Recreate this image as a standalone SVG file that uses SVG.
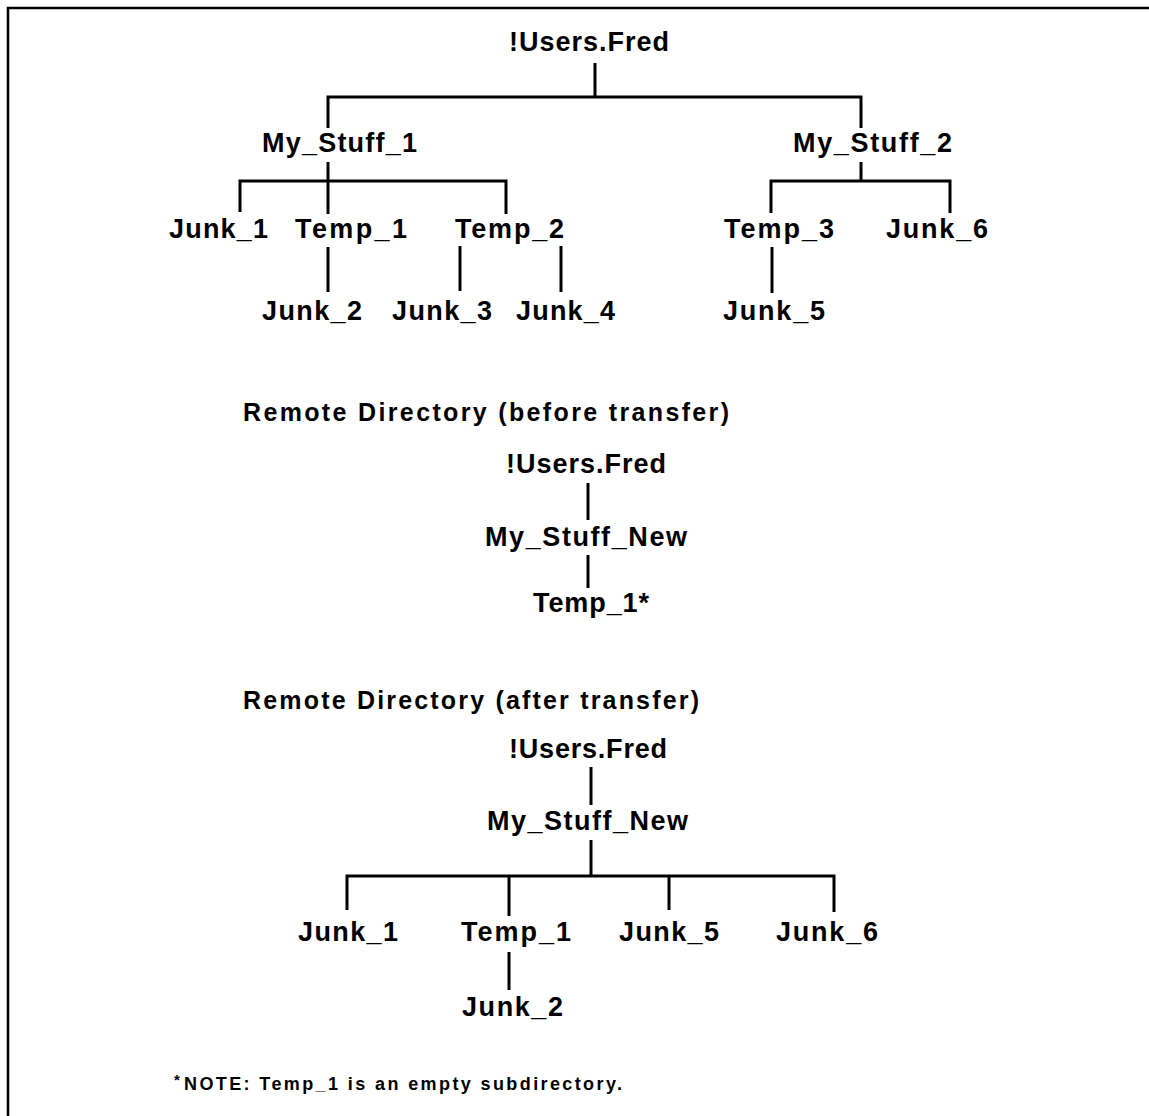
<svg xmlns="http://www.w3.org/2000/svg" width="1149" height="1116" viewBox="0 0 1149 1116">
  <style>
    .n { font-family: "Liberation Sans", Arial, Helvetica, sans-serif; font-weight: bold; font-size: 27px; fill: #000; }
    .h { font-family: "Liberation Sans", Arial, Helvetica, sans-serif; font-weight: bold; font-size: 25px; fill: #000; }
    .f { font-family: "Liberation Sans", Arial, Helvetica, sans-serif; font-weight: bold; font-size: 18px; fill: #000; }
    .fs { font-family: "Liberation Sans", Arial, Helvetica, sans-serif; font-weight: bold; font-size: 15px; fill: #000; }
    .c { stroke: #000; stroke-width: 3; fill: none; stroke-linecap: butt; stroke-linejoin: miter; }
    .frame { stroke: #000; stroke-width: 2.5; fill: none; }
  </style>
  <rect width="1149" height="1116" fill="#fff"/>

  <!-- page frame: top and left rules -->
  <path class="frame" d="M8 1116 V8 H1149"/>

  <!-- tree connectors -->
  <g id="connectors">
    <!-- local tree -->
    <path class="c" d="M595 63 V97"/>
    <path class="c" d="M328 128 V97 H861 V128"/>
    <path class="c" d="M328 162 V214"/>
    <path class="c" d="M240 212 V181 H506 V214"/>
    <path class="c" d="M861 162 V181"/>
    <path class="c" d="M771 213 V181 H950 V213"/>
    <path class="c" d="M328 247 V292"/>
    <path class="c" d="M460 246 V291"/>
    <path class="c" d="M561 246 V292"/>
    <path class="c" d="M772 247 V293"/>
    <!-- remote, before transfer -->
    <path class="c" d="M588 483 V520"/>
    <path class="c" d="M588 555 V588"/>
    <!-- remote, after transfer -->
    <path class="c" d="M591 767 V805"/>
    <path class="c" d="M591 840 V876"/>
    <path class="c" d="M347 910 V876 H834 V912"/>
    <path class="c" d="M509 876 V916"/>
    <path class="c" d="M669 876 V910"/>
    <path class="c" d="M509 952 V990"/>
  </g>

  <!-- local directory tree -->
  <g id="local-root"><text class="n" x="509" y="51" textLength="160" lengthAdjust="spacing">!Users.Fred</text></g>
  <g id="local-my-stuff-1"><text class="n" x="262" y="152" textLength="155" lengthAdjust="spacing">My_Stuff_1</text></g>
  <g id="local-my-stuff-2"><text class="n" x="793" y="152" textLength="159" lengthAdjust="spacing">My_Stuff_2</text></g>
  <g id="local-junk-1"><text class="n" x="169" y="238" textLength="99" lengthAdjust="spacing">Junk_1</text></g>
  <g id="local-temp-1"><text class="n" x="295" y="238" textLength="112" lengthAdjust="spacing">Temp_1</text></g>
  <g id="local-temp-2"><text class="n" x="455" y="238" textLength="109" lengthAdjust="spacing">Temp_2</text></g>
  <g id="local-temp-3"><text class="n" x="724" y="238" textLength="110" lengthAdjust="spacing">Temp_3</text></g>
  <g id="local-junk-6"><text class="n" x="886" y="238" textLength="102" lengthAdjust="spacing">Junk_6</text></g>
  <g id="local-junk-2"><text class="n" x="262" y="320" textLength="100" lengthAdjust="spacing">Junk_2</text></g>
  <g id="local-junk-3"><text class="n" x="392" y="320" textLength="100" lengthAdjust="spacing">Junk_3</text></g>
  <g id="local-junk-4"><text class="n" x="516" y="320" textLength="99" lengthAdjust="spacing">Junk_4</text></g>
  <g id="local-junk-5"><text class="n" x="723" y="320" textLength="102" lengthAdjust="spacing">Junk_5</text></g>

  <!-- remote directory before transfer -->
  <g id="title-before"><text class="h" x="243" y="421" textLength="486" lengthAdjust="spacing">Remote Directory (before transfer)</text></g>
  <g id="before-root"><text class="n" x="506" y="473" textLength="160" lengthAdjust="spacing">!Users.Fred</text></g>
  <g id="before-my-stuff-new"><text class="n" x="485" y="546" textLength="202" lengthAdjust="spacing">My_Stuff_New</text></g>
  <g id="before-temp-1"><text class="n" x="533" y="612" textLength="116" lengthAdjust="spacing">Temp_1*</text></g>

  <!-- remote directory after transfer -->
  <g id="title-after"><text class="h" x="243" y="709" textLength="456" lengthAdjust="spacing">Remote Directory (after transfer)</text></g>
  <g id="after-root"><text class="n" x="509" y="758" textLength="158" lengthAdjust="spacing">!Users.Fred</text></g>
  <g id="after-my-stuff-new"><text class="n" x="487" y="830" textLength="201" lengthAdjust="spacing">My_Stuff_New</text></g>
  <g id="after-junk-1"><text class="n" x="298" y="941" textLength="100" lengthAdjust="spacing">Junk_1</text></g>
  <g id="after-temp-1"><text class="n" x="461" y="941" textLength="110" lengthAdjust="spacing">Temp_1</text></g>
  <g id="after-junk-5"><text class="n" x="619" y="941" textLength="100" lengthAdjust="spacing">Junk_5</text></g>
  <g id="after-junk-6"><text class="n" x="776" y="941" textLength="102" lengthAdjust="spacing">Junk_6</text></g>
  <g id="after-junk-2"><text class="n" x="462" y="1016" textLength="101" lengthAdjust="spacing">Junk_2</text></g>

  <!-- footnote -->
  <g id="footnote">
    <text class="fs" x="174" y="1085">*</text>
    <text class="f" x="184" y="1090" textLength="438" lengthAdjust="spacing">NOTE: Temp_1 is an empty subdirectory.</text>
  </g>
</svg>
